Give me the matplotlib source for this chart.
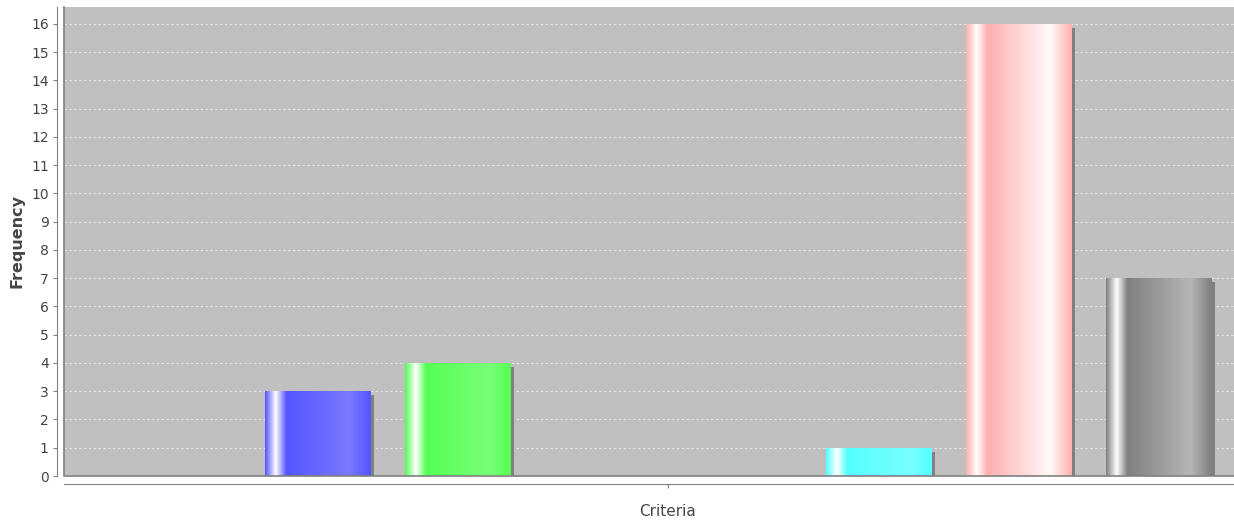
import numpy as np
import matplotlib
matplotlib.use("Agg")
import matplotlib.pyplot as plt
import matplotlib.transforms as mtransforms
from matplotlib.patches import Rectangle

# one category, one bar per series (default JFreeChart paint order)
series = ["S1", "S2", "S3", "S4", "S5", "S6", "S7", "S8"]
frequency = [0, 3, 4, 0, 0, 1, 16, 7]
base_colors = [(255, 85, 85), (85, 85, 255), (85, 255, 85), (255, 255, 85),
               (255, 85, 255), (85, 255, 255), (255, 175, 175), (128, 128, 128)]
y_ticks = list(range(0, 17))

W, H = 1234, 520
fig = plt.figure(figsize=(W / 100, H / 100), dpi=100)
ax = fig.add_axes([64 / W, 44 / H, (1272 - 64) / W, 469 / H])
ax.set_facecolor((192 / 255, 192 / 255, 192 / 255))

bar_w = 0.75


def brighter(c):
    return tuple(min(255, int(v / 0.7)) for v in c)


def gradient_row(c, n=200):
    # white streak at 10%, base -> brighter across the middle, back to base at the edge
    c0 = np.array(c, float) / 255
    c1 = np.array(brighter(c), float) / 255
    wht = np.ones(3)
    stops = [(0.0, c0), (0.10, wht), (0.20, c0), (0.80, c1), (1.0, c0)]
    xs = np.linspace(0, 1, n)
    row = np.zeros((n, 3))
    for k in range(3):
        row[:, k] = np.interp(xs, [s[0] for s in stops], [s[1][k] for s in stops])
    return row[None, :, :]


shadow_off = mtransforms.ScaledTranslation(4 / 100, -4 / 100, fig.dpi_scale_trans)

for i, (v, c) in enumerate(zip(frequency, base_colors)):
    if v <= 0:
        continue
    x0 = i - bar_w / 2
    # drop shadow
    sh = Rectangle((x0, 0), bar_w, v, facecolor=(0.5, 0.5, 0.5), edgecolor="none",
                   transform=ax.transData + shadow_off, zorder=2, clip_on=True)
    ax.add_patch(sh)
    rect = Rectangle((x0, 0), bar_w, v, facecolor="none", edgecolor="none", zorder=3)
    ax.add_patch(rect)
    im = ax.imshow(gradient_row(c), extent=[x0, x0 + bar_w, 0, v], aspect="auto",
                   interpolation="bilinear", zorder=3)
    im.set_clip_path(rect)

ax.set_xlim(-0.814, 7.814)
ax.set_ylim(0, 16.6)

# grid
for y in y_ticks[1:]:
    ax.axhline(y, color="white", lw=0.7, ls=(0, (2.5, 2.5)), alpha=0.65, zorder=1)

ax.set_yticks(y_ticks)
ax.set_yticklabels([str(t) for t in y_ticks])
ax.set_xticks([3.5])
ax.set_xticklabels([""])

gray = (0.5, 0.5, 0.5)
txt = (0.27, 0.27, 0.27)
ax.tick_params(axis="y", direction="out", length=3, width=0.8, color=gray,
               labelsize=10, labelcolor=txt, pad=3)
ax.tick_params(axis="x", direction="out", length=3, width=0.8, color=gray)

for s in ["top", "right"]:
    ax.spines[s].set_visible(False)
ax.spines["left"].set_position(("outward", 5))
ax.spines["bottom"].set_position(("outward", 6))
ax.spines["left"].set_color(gray)
ax.spines["bottom"].set_color(gray)

# plot outline (left and bottom edges)
ax.plot([0, 0, 1], [1, 0, 0], transform=ax.transAxes, color=gray, lw=1.2,
        zorder=5, clip_on=False)

ax.set_ylabel("Frequency", fontsize=11.5, fontweight="bold", color=txt, labelpad=5)
fig.text(668 / W, 1 - 512 / H, "Criteria", fontsize=11, color=txt,
         ha="center", va="center")

fig.savefig("out.png", dpi=100)
